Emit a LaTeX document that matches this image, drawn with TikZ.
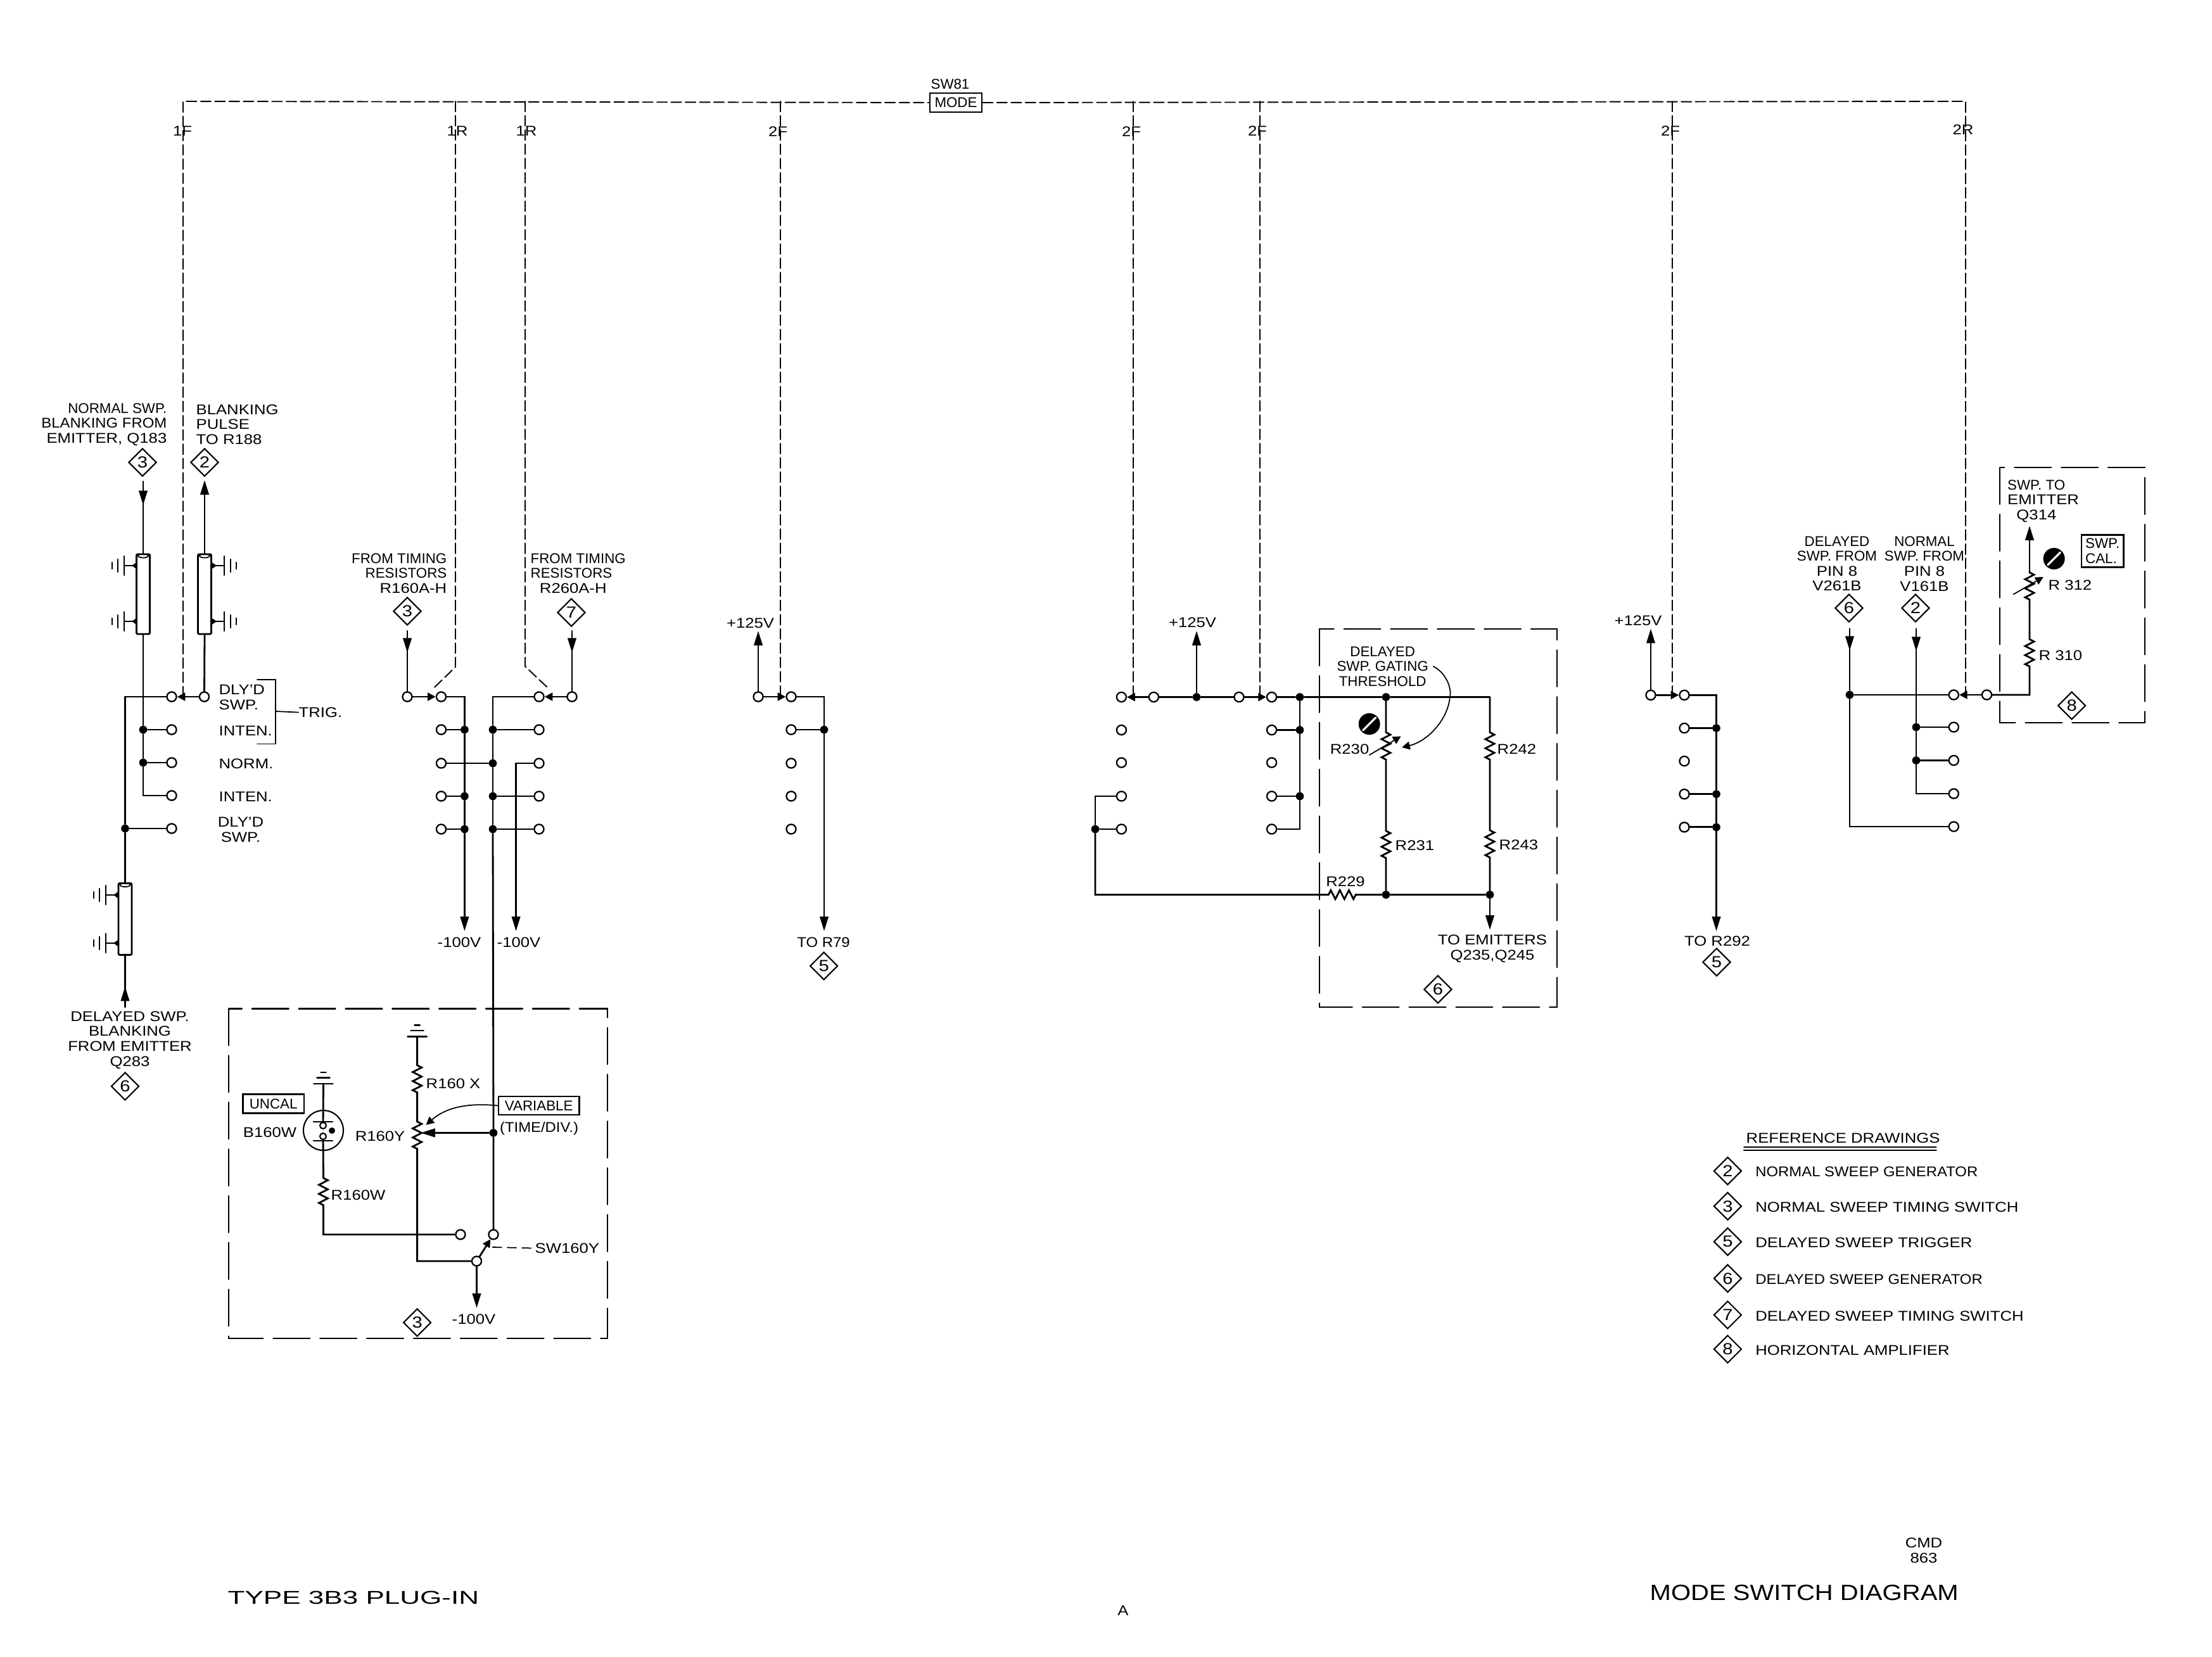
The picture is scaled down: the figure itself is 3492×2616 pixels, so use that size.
\documentclass[tikz,border=0pt]{standalone}
\usepackage{fontspec}
\setmainfont[FakeStretch=1.15]{Liberation Sans}
\newfontfamily\tightf[FakeStretch=1.0]{Liberation Sans}
\newfontfamily\midf[FakeStretch=1.07]{Liberation Sans}
\newfontfamily\widef[FakeStretch=1.5]{Liberation Sans}
\usetikzlibrary{arrows.meta,shapes.geometric,decorations.pathmorphing,decorations.markings}
\tikzset{
	every node/.style={inner sep=0pt},
	wire/.style={line width=.8pt},
	thinw/.style={line width=.5pt},
	bus/.style={line width=.55pt,dash pattern=on 4.6pt off 1.8pt},
	tapdash/.style={line width=.5pt,dash pattern=on 4pt off 2.6pt},
	boxdash/.style={line width=.6pt,dash pattern=on 16.5pt off 4.5pt},
	contact/.style={circle,draw,fill=white,line width=.65pt,inner sep=0pt,minimum size=4.3pt},
	jdot/.style={circle,fill=black,inner sep=0pt,minimum size=3.6pt},
	refmark/.style={diamond,draw,line width=.6pt,inner sep=0pt,minimum size=.44cm,aspect=1,font=\fontsize{7.2}{8}\selectfont},
	tagbox/.style={draw,line width=.7pt,inner sep=0pt},
	coax/.style={rectangle,draw,fill=white,line width=.8pt,rounded corners=.6pt,inner sep=0pt,minimum width=.21cm},
	resv/.style={inner sep=0pt,minimum width=.14cm,minimum height=.43cm},
	resh/.style={inner sep=0pt,minimum width=.45cm,minimum height=.14cm},
	zig/.style={decoration={zigzag,segment length=.143cm,amplitude=.07cm}},
	swarrow/.style={-{Triangle[length=3.6pt,width=3.6pt]}},
	arrowat/.style={postaction={decorate,decoration={markings,mark=at position #1 with {\arrow{>}}}}},
	pics/gndh/.style={code={
		\draw[thinw] (0,0)--(20,0);
		\fill (0,-5.5)--(8,0)--(0,5.5)--cycle;
		\draw[wire] (20,-15)--(20,15) (30,-10)--(30,10) (39,-5)--(39,5);
	}},
	pics/gndv/.style={code={
		\draw[wire] (-15,0)--(15,0) (-10,-9.5)--(10,-9.5) (-4,-18)--(4,-18);
	}},
	pics/screw/.style={code={
		\fill (0,0) circle (17);
		\draw[white,line width=.9pt] (-10,10)--(10,-10);
	}},
}
\begin{document}
\begin{tikzpicture}[>={Triangle[length=6.5pt,width=3.8pt]},x=.01cm,y=-.01cm,line cap=round,font=\fontsize{6.35}{6.7}\selectfont]
	\useasboundingbox (0,0) rectangle (3492,2616);
	% mode switch bus
	\node[tagbox,minimum width=.82cm,minimum height=.3cm] (mode) at (1509,162) {\tightf MODE};
	\node (sw81) at (1500,133) {\tightf SW81};
	\coordinate (busL) at (289,160);
	\coordinate (busR) at (3103,160);
	\coordinate (busA) at (719,160);
	\coordinate (busB) at (829,160);
	\coordinate (busC) at (1232,160);
	\coordinate (busD) at (1789,160);
	\coordinate (busE) at (1989,160);
	\coordinate (busF) at (2640,160);
	\coordinate (kinkA) at (719,1053);
	\coordinate (kinkB) at (829,1052);
	\coordinate (endA) at (683,1088);
	\coordinate (endB) at (867,1088);
	\coordinate (end1F) at (289,1100);
	\coordinate (endC) at (1232,1100);
	\coordinate (endD) at (1789,1100);
	\coordinate (endE) at (1989,1100);
	\coordinate (endF) at (2640,1097);
	\coordinate (endR) at (3103,1097);
	\draw[bus] (end1F)--(busL)--(mode.west);
	\draw[bus] (mode.east)--(busR)--(endR);
	\draw[bus] (busA)--(kinkA)--(endA);
	\draw[bus] (busB)--(kinkB)--(endB);
	\draw[bus] (busC)--(endC) (busD)--(endD) (busE)--(endE) (busF)--(endF);
	\node (t1F) at (288,207) {1F};
	\node (t1Ra) at (722,207) {1R};
	\node (t1Rb) at (831,207) {1R};
	\node (t2Fa) at (1228,208) {2F};
	\node (t2Fb) at (1786,208) {2F};
	\node (t2Fc) at (1985,207) {2F};
	\node (t2Fd) at (2637,207) {2F};
	\node (t2R) at (3099,205) {2R};
	% blanking
	\node[align=right,anchor=east] (lblNorm) at (264,670) {{\tightf NORMAL SWP.}\\{\midf BLANKING FROM}\\EMITTER, Q183};
	\node[align=left,anchor=west] (lblPulse) at (309,670) {BLANKING\\PULSE\\TO R188};
	\node[refmark] (refN) at (225,730) {3};
	\node[refmark] (refB) at (323,730) {2};
	\node[coax,minimum height=1.26cm] (coaxN) at (226,938) {};
	\node[coax,minimum height=1.26cm] (coaxB) at (323,938) {};
	\node[coax,minimum height=1.13cm] (coaxD) at (197.5,1451) {};
	\draw[thinw] (coaxN.north) ++(0,4) ellipse (8 and 3);
	\draw[thinw] (coaxB.north) ++(0,4) ellipse (8 and 3);
	\draw[thinw] (coaxD.north) ++(0,4) ellipse (8 and 3);
	\path (216,893) pic[xscale=-1] {gndh} (216,981) pic[xscale=-1] {gndh};
	\path (334,893) pic {gndh} (334,981) pic {gndh};
	\path (187,1413) pic[xscale=-1] {gndh} (187,1489) pic[xscale=-1] {gndh};
	\coordinate (inN) at (226,760);
	\coordinate (outB) at (323,758);
	\coordinate (inD) at (197.5,1590);
	\node[contact] (blA1) at (271,1100) {};
	\node[contact] (blA2) at (271,1152) {};
	\node[contact] (blA3) at (271,1204) {};
	\node[contact] (blA4) at (271,1256) {};
	\node[contact] (blA5) at (271,1308) {};
	\node[contact] (blSrc) at (322.5,1100) {};
	\node[jdot] (blD2) at (226,1152) {};
	\node[jdot] (blD3) at (226,1204) {};
	\node[jdot] (blD5) at (197.5,1308) {};
	\coordinate (blC1) at (197.5,1100);
	\coordinate (blC4) at (226,1256);
	\draw[wire,arrowat=.33] (inN)--(coaxN.north);
	\draw[wire] (coaxN.south)--(blD2)--(blD3)--(blC4)--(blA4);
	\draw[wire] (blD2)--(blA2) (blD3)--(blA3);
	\draw[wire] (blA1)--(blC1)--(blD5)--(coaxD.north);
	\draw[wire] (blD5)--(blA5);
	\draw[wire,arrowat=.4] (inD)--(coaxD.south);
	\draw[wire,swarrow] (blSrc)--(blA1);
	\draw[wire] (blSrc)--(coaxB.south);
	\draw[wire,->] (coaxB.north)--(outB);
	\node[align=left,anchor=west] (lblDly) at (345,1101) {DLY'D\\SWP.};
	\node[anchor=mid west] (lblInt) at (345,1152) {INTEN.};
	\node[anchor=mid west] (lblNrm) at (345,1204) {NORM.};
	\node[anchor=mid west] (lblIn2) at (345,1256) {INTEN.};
	\node[align=center] (lblDl2) at (380,1310) {DLY'D\\SWP.};
	\node[anchor=mid west] (TRIG) at (471,1123) {TRIG.};
	\coordinate (brkA) at (406,1073);
	\coordinate (brkB) at (435,1174.5);
	\coordinate (brkC) at (406,1174.5);
	\coordinate (brkM) at (435,1123);
	\draw[thinw] (brkA)-|(brkB)--(brkC);
	\draw[thinw] (brkM)--(TRIG.west);
	\node[align=center] (lblDelay) at (205,1642) {DELAYED SWP.\\BLANKING\\FROM EMITTER\\Q283};
	\node[refmark] (refD) at (197.5,1715) {6};
	% timing
	\node[align=right,anchor=east] (lblTmA) at (706,905) {{\tightf FROM TIMING}\\{\tightf RESISTORS}\\R160A-H};
	\node[align=left,anchor=west] (lblTmB) at (837,905) {{\tightf FROM TIMING}\\{\tightf RESISTORS}\\ \ \ R260A-H};
	\node[refmark] (refTA) at (643,965) {3};
	\node[refmark] (refTB) at (902,967) {7};
	\coordinate (inTA) at (643,996);
	\coordinate (inTB) at (903,996);
	\node[contact] (tmSrcA) at (643,1100) {};
	\node[contact] (tmSrcB) at (903,1100) {};
	\node[contact] (tmA1) at (696.5,1100) {};
	\node[contact] (tmA2) at (696.5,1152) {};
	\node[contact] (tmA3) at (696.5,1205) {};
	\node[contact] (tmA4) at (696.5,1257) {};
	\node[contact] (tmA5) at (696.5,1309) {};
	\node[contact] (tmB1) at (851,1100) {};
	\node[contact] (tmB2) at (851,1152) {};
	\node[contact] (tmB3) at (851,1205) {};
	\node[contact] (tmB4) at (851,1257) {};
	\node[contact] (tmB5) at (851,1309) {};
	\node[jdot] (tmD2) at (733.4,1152) {};
	\node[jdot] (tmD4) at (733.4,1257) {};
	\node[jdot] (tmD5) at (733.4,1309) {};
	\node[jdot] (tmE2) at (778,1152) {};
	\node[jdot] (tmE3) at (778,1205) {};
	\node[jdot] (tmE4) at (778,1257) {};
	\node[jdot] (tmE5) at (778,1309) {};
	\coordinate (tmC1) at (733.4,1100);
	\coordinate (tmC2) at (778,1100);
	\coordinate (tmC3) at (814.6,1205);
	\coordinate (tipA) at (733.4,1470);
	\coordinate (tipB) at (814.6,1470);
	\draw[wire,arrowat=.36] (inTA)--(tmSrcA);
	\draw[wire,arrowat=.36] (inTB)--(tmSrcB);
	\draw[wire,swarrow] (tmSrcA)--(tmA1);
	\draw[wire,swarrow] (tmSrcB)--(tmB1);
	\draw[wire] (tmA1)--(tmC1)--(tmD2)--(tmD4)--(tmD5);
	\draw[wire,->] (tmD5)--(tipA);
	\draw[wire] (tmA2)--(tmD2) (tmA4)--(tmD4) (tmA5)--(tmD5);
	\draw[wire] (tmA3)--(tmE3);
	\draw[wire] (tmB1)--(tmC2)--(tmE2)--(tmE3)--(tmE4)--(tmE5);
	\draw[wire] (tmB2)--(tmE2) (tmB4)--(tmE4) (tmB5)--(tmE5);
	\draw[wire] (tmB3)--(tmC3);
	\draw[wire,->] (tmC3)--(tipB);
	\node[anchor=mid] (lblVA) at (725,1486) {-100V};
	\node[anchor=mid] (lblVB) at (819,1486) {-100V};
	% variable time/div
	\draw[boxdash] (361,1592.5) rectangle (958.7,2113);
	\node[refmark] (refV) at (658.6,2088) {3};
	\coordinate (gndX) at (658.6,1636.5);
	\coordinate (gndW) at (510.5,1711);
	\path (gndX) pic {gndv} (gndW) pic {gndv};
	\node[resv] (R160X) at (658.6,1704) {};
	\node[resv] (R160Y) at (658.6,1793) {};
	\node[resv] (R160W) at (510.5,1882) {};
	\node[anchor=mid west] (lblRX) at (672,1709) {R160 X};
	\node[anchor=mid east] (lblRY) at (640,1792) {R160Y};
	\node[anchor=mid west] (lblRW) at (522,1885) {R160W};
	\node[circle,draw,line width=.6pt,inner sep=0pt,minimum size=.63cm] (B160W) at (510.5,1784.6) {};
	\node[circle,draw,fill=white,line width=.6pt,inner sep=0pt,minimum size=.1cm] (lampT) at (510,1777) {};
	\node[circle,draw,fill=white,line width=.6pt,inner sep=0pt,minimum size=.1cm] (lampB) at (510,1794) {};
	\fill (524,1785) circle (5);
	\draw[wire] (495,1771)--(525,1771) (495,1801)--(525,1801);
	\node[anchor=mid] (lblLamp) at (426,1786) {B160W};
	\node[tagbox,minimum width=.965cm,minimum height=.3cm] (uncal) at (431.7,1742.7) {\tightf UNCAL};
	\node[tagbox,minimum width=1.275cm,minimum height=.29cm] (varbox) at (850.7,1745.5) {\tightf VARIABLE};
	\node[anchor=mid] (lblTime) at (851,1778) {\midf (TIME/DIV.)};
	\node[contact] (vrA) at (727,1949) {};
	\node[contact] (vrB) at (752.5,1991) {};
	\node[contact] (vrC) at (779,1949) {};
	\node[jdot] (vrD) at (779,1788.5) {};
	\coordinate (tipV) at (752.5,2065);
	\coordinate (wiper) at (664,1788.5);
	\node[anchor=mid west] (SW160Y) at (844,1969) {SW160Y};
	\node[anchor=mid] (lblV3) at (748,2081) {-100V};
	\coordinate (swTap) at (777.7,1969);
	\draw[wire] (gndW)--(lampT);
	\draw[wire] (lampB)--(R160W.north) decorate[zig] {--(R160W.south)} |- (vrA);
	\draw[wire] (gndX)--(R160X.north) decorate[zig] {--(R160X.south)} --(R160Y.north) decorate[zig] {--(R160Y.south)} |- (vrB);
	\draw[wire] (tmE5)--(vrD)--(vrC);
	\draw[wire,->] (vrD)--(wiper);
	\draw[wire,swarrow] (vrB)--(vrC);
	\draw[wire,->] (vrB)--(tipV);
	\draw[tapdash] (swTap)--(SW160Y.west);
	\coordinate (varTip) at (672.5,1776);
	\draw[thinw,swarrow] (varbox.west) .. controls (730,1740) and (700,1752) .. (varTip);
	% +125V feeds
	\node[anchor=mid] (lblPa) at (1184.5,982) {+125V};
	\coordinate (upA) at (1197,996);
	\node[contact] (fdSrc) at (1197,1100) {};
	\node[contact] (fdA1) at (1249,1100) {};
	\node[contact] (fdA2) at (1249,1152) {};
	\node[contact] (fdA3) at (1249,1205) {};
	\node[contact] (fdA4) at (1249,1257) {};
	\node[contact] (fdA5) at (1249,1309) {};
	\node[jdot] (fdD2) at (1301,1152) {};
	\coordinate (fdC1) at (1301,1100);
	\coordinate (tipR79) at (1301,1470);
	\draw[wire,->] (fdSrc)--(upA);
	\draw[wire,swarrow] (fdSrc)--(fdA1);
	\draw[wire] (fdA1)--(fdC1)--(fdD2)--(fdA2);
	\draw[wire,->] (fdD2)--(tipR79);
	\node[anchor=mid] (lblR79) at (1300,1486) {\midf TO R79};
	\node[refmark] (refR79) at (1300.6,1525) {5};
	% delayed sweep gating
	\draw[boxdash] (2082.6,993) rectangle (2457.6,1589.6);
	\node[anchor=mid] (lblPb) at (1882.5,981) {+125V};
	\coordinate (upB) at (1889,996);
	\node[contact] (gtL1) at (1770.4,1100.5) {};
	\node[contact] (gtL2) at (1770.4,1152.5) {};
	\node[contact] (gtL3) at (1770.4,1204) {};
	\node[contact] (gtL4) at (1770.4,1257) {};
	\node[contact] (gtL5) at (1770.4,1309) {};
	\node[contact] (gtS1) at (1821.4,1100.5) {};
	\node[contact] (gtS2) at (1956,1100.5) {};
	\node[jdot] (gtUp) at (1889,1100.5) {};
	\node[contact] (gtR1) at (2007.6,1100.5) {};
	\node[contact] (gtR2) at (2007.6,1152.5) {};
	\node[contact] (gtR3) at (2007.6,1204) {};
	\node[contact] (gtR4) at (2007.6,1257) {};
	\node[contact] (gtR5) at (2007.6,1309) {};
	\node[jdot] (gtD1) at (2052,1100.5) {};
	\node[jdot] (gtD2) at (2052,1152.5) {};
	\node[jdot] (gtD4) at (2052,1257) {};
	\coordinate (gtC5) at (2052,1309);
	\node[jdot] (gtT) at (2188,1100.5) {};
	\coordinate (gtCR) at (2352,1100.5);
	\node[jdot] (gtM) at (2188,1412.5) {};
	\node[jdot] (gtN) at (2352,1412.5) {};
	\node[jdot] (gtX5) at (1729,1309) {};
	\coordinate (gtX4) at (1729,1257);
	\coordinate (gtX6) at (1729,1412.5);
	\node[resv] (R230) at (2188,1178.5) {};
	\node[resv] (R231) at (2188,1334) {};
	\node[resv] (R242) at (2352,1178.5) {};
	\node[resv] (R243) at (2352,1333) {};
	\node[resh] (R229) at (2120.5,1412.5) {};
	\coordinate (tipEm) at (2352,1468);
	\draw[wire,->] (gtUp)--(upB);
	\draw[wire,swarrow] (gtS1)--(gtL1);
	\draw[wire] (gtS1)--(gtUp)--(gtS2);
	\draw[wire,swarrow] (gtS2)--(gtR1);
	\draw[wire] (gtR1)--(gtD1)--(gtT)--(gtCR);
	\draw[wire] (gtD1)--(gtD2)--(gtD4)--(gtC5)--(gtR5);
	\draw[wire] (gtR2)--(gtD2) (gtR4)--(gtD4);
	\draw[wire] (gtL4)--(gtX4)--(gtX5)--(gtL5);
	\draw[wire] (gtX5)--(gtX6)--(R229.west) decorate[zig] {--(R229.east)} --(gtM)--(gtN);
	\draw[wire] (gtT)--(R230.north) decorate[zig] {--(R230.south)} --(R231.north) decorate[zig] {--(R231.south)} --(gtM);
	\draw[wire] (gtCR)--(R242.north) decorate[zig] {--(R242.south)} --(R243.north) decorate[zig] {--(R243.south)} --(gtN);
	\draw[wire,->] (gtN)--(tipEm);
	\path (2161.7,1143) pic {screw};
	\coordinate (trimA) at (2161.7,1192);
	\coordinate (trimB) at (2211.7,1162.5);
	\draw[thinw,swarrow] (trimA)--(trimB);
	\node[align=center] (lblGate) at (2182.7,1052) {\tightf DELAYED\\\tightf SWP. GATING\\\tightf THRESHOLD};
	\coordinate (gateA) at (2262.7,1052);
	\coordinate (gateB) at (2289,1100);
	\coordinate (gateC) at (2213,1180);
	\draw[thinw,swarrow] (gateA) .. controls (2282,1062) and (2292,1085) .. (gateB) .. controls (2286,1135) and (2255,1170) .. (gateC);
	\node[anchor=mid east] (lblR230) at (2162,1181) {R230};
	\node[anchor=mid west] (lblR231) at (2202,1333) {R231};
	\node[anchor=mid west] (lblR242) at (2363,1181) {R242};
	\node[anchor=mid west] (lblR243) at (2366,1332) {R243};
	\node[anchor=mid] (lblR229) at (2124,1390) {R229};
	\node[align=center] (lblEm) at (2356,1498) {TO EMITTERS\\Q235,Q245};
	\node[refmark] (refGt) at (2270,1562) {6};
	% delayed sweep trigger
	\node[anchor=mid] (lblPc) at (2586,978) {+125V};
	\coordinate (upC) at (2606,992.6);
	\node[contact] (trSrc) at (2606,1097.4) {};
	\node[contact] (trA1) at (2659,1097.4) {};
	\node[contact] (trA2) at (2659,1149.5) {};
	\node[contact] (trA3) at (2659,1201.6) {};
	\node[contact] (trA4) at (2659,1253.7) {};
	\node[contact] (trA5) at (2659,1305.9) {};
	\coordinate (trC1) at (2709.5,1097.4);
	\node[jdot] (trD2) at (2709.5,1149.5) {};
	\node[jdot] (trD4) at (2709.5,1253.7) {};
	\node[jdot] (trD5) at (2709.5,1305.9) {};
	\coordinate (tipR292) at (2709.5,1470);
	\draw[wire,->] (trSrc)--(upC);
	\draw[wire,swarrow] (trSrc)--(trA1);
	\draw[wire] (trA1)--(trC1)--(trD2)--(trD4)--(trD5);
	\draw[wire] (trA2)--(trD2) (trA4)--(trD4) (trA5)--(trD5);
	\draw[wire,->] (trD5)--(tipR292);
	\node[anchor=mid] (lblR292) at (2711,1484) {TO R292};
	\node[refmark] (refR292) at (2710,1519) {5};
	% sweep to horizontal amplifier
	\draw[boxdash] (3157,738) rectangle (3385.7,1140.7);
	\node[align=center] (lblDlS) at (2900,890) {\tightf DELAYED\\\tightf SWP. FROM\\PIN 8\\V261B};
	\node[align=center] (lblNrS) at (3038,890) {\tightf NORMAL\\\tightf SWP. FROM\\PIN 8\\V161B};
	\node[refmark] (refDlS) at (2919,960) {6};
	\node[refmark] (refNrS) at (3024,960) {2};
	\coordinate (inDl) at (2920,992.6);
	\coordinate (inNr) at (3025,992.6);
	\node[contact] (hzA1) at (3084.3,1097) {};
	\node[contact] (hzA2) at (3084.3,1148) {};
	\node[contact] (hzA3) at (3084.3,1200.5) {};
	\node[contact] (hzA4) at (3084.3,1253) {};
	\node[contact] (hzA5) at (3084.3,1305) {};
	\node[contact] (hzSrc) at (3136.5,1097) {};
	\node[jdot] (hzJ) at (2920,1097) {};
	\node[jdot] (hzN2) at (3025,1148) {};
	\node[jdot] (hzN3) at (3025,1200.5) {};
	\coordinate (hzC4) at (3025,1253);
	\coordinate (hzC5) at (2920,1305);
	\coordinate (hzWire) at (3204,1097);
	\coordinate (hzUp) at (3204,830);
	\node[resv] (R310) at (3204,1030) {};
	\node[resv] (R312) at (3204,924.5) {};
	\draw[wire,arrowat=.355] (inDl)--(hzJ);
	\draw[wire] (hzJ)--(hzA1);
	\draw[wire] (hzJ)--(hzC5)--(hzA5);
	\draw[wire,arrowat=.24] (inNr)--(hzN2);
	\draw[wire] (hzN2)--(hzN3)--(hzC4)--(hzA4);
	\draw[wire] (hzN2)--(hzA2) (hzN3)--(hzA3);
	\draw[wire,swarrow] (hzSrc)--(hzA1);
	\draw[wire] (hzSrc)--(hzWire)--(R310.south) decorate[zig] {--(R310.north)} --(R312.south) decorate[zig] {--(R312.north)};
	\draw[wire,->] (R312.north)--(hzUp);
	\path (3242.6,882) pic {screw};
	\coordinate (calA) at (3178.6,938.3);
	\coordinate (calB) at (3225.8,910.9);
	\draw[thinw,swarrow] (calA)--(calB);
	\node[align=left,anchor=west] (lblEmS) at (3168.5,791) {\tightf SWP. TO\\EMITTER\\ \ \ Q314};
	\node[tagbox,minimum width=.665cm,minimum height=.51cm,align=left] (calbox) at (3319.3,870) {\tightf SWP.\\\tightf CAL.};
	\node[anchor=mid west] (lblR312) at (3233,922) {R 312};
	\node[anchor=mid west] (lblR310) at (3218,1033) {R 310};
	\node[refmark] (refCal) at (3270.6,1114) {8};
	% reference list
	\node[anchor=mid west] (lgT) at (2756,1795) {REFERENCE DRAWINGS};
	\coordinate (ulA) at (2753,1811);
	\coordinate (ulB) at (3056.6,1811);
	\coordinate (ulC) at (2753,1816);
	\coordinate (ulD) at (3056.6,1816);
	\draw[thinw] (ulA)--(ulB);
	\draw[wire] (ulC)--(ulD);
	\node[refmark] (lgM2) at (2727.4,1848.7) {2};
	\node[refmark] (lgM3) at (2727.4,1904.3) {3};
	\node[refmark] (lgM5) at (2727.4,1960.3) {5};
	\node[refmark] (lgM6) at (2727.4,2018.3) {6};
	\node[refmark] (lgM7) at (2727.4,2076) {7};
	\node[refmark] (lgM8) at (2727.4,2130) {8};
	\node[anchor=mid west] (lgT2) at (2770.6,1848.7) {\midf NORMAL SWEEP GENERATOR};
	\node[anchor=mid west] (lgT3) at (2770.6,1904.3) {NORMAL SWEEP TIMING SWITCH};
	\node[anchor=mid west] (lgT5) at (2770.6,1960.3) {DELAYED SWEEP TRIGGER};
	\node[anchor=mid west] (lgT6) at (2770.6,2018.3) {\midf DELAYED SWEEP GENERATOR};
	\node[anchor=mid west] (lgT7) at (2770.6,2076) {DELAYED SWEEP TIMING SWITCH};
	\node[anchor=mid west] (lgT8) at (2770.6,2130) {HORIZONTAL AMPLIFIER};
	% title strip
	\node[anchor=mid west,font=\widef\fontsize{8.35}{10}\selectfont] (plugin) at (359,2523) {TYPE 3B3 PLUG-IN};
	\node[anchor=mid,font=\fontsize{6.35}{6.7}\selectfont] (letterA) at (1773,2541) {A};
	\node[anchor=mid west,font=\fontsize{9.9}{11}\selectfont] (title) at (2604,2517) {MODE SWITCH DIAGRAM};
	\node[align=center] (cmd) at (3037,2448) {CMD\\863};
\end{tikzpicture}
\end{document}
